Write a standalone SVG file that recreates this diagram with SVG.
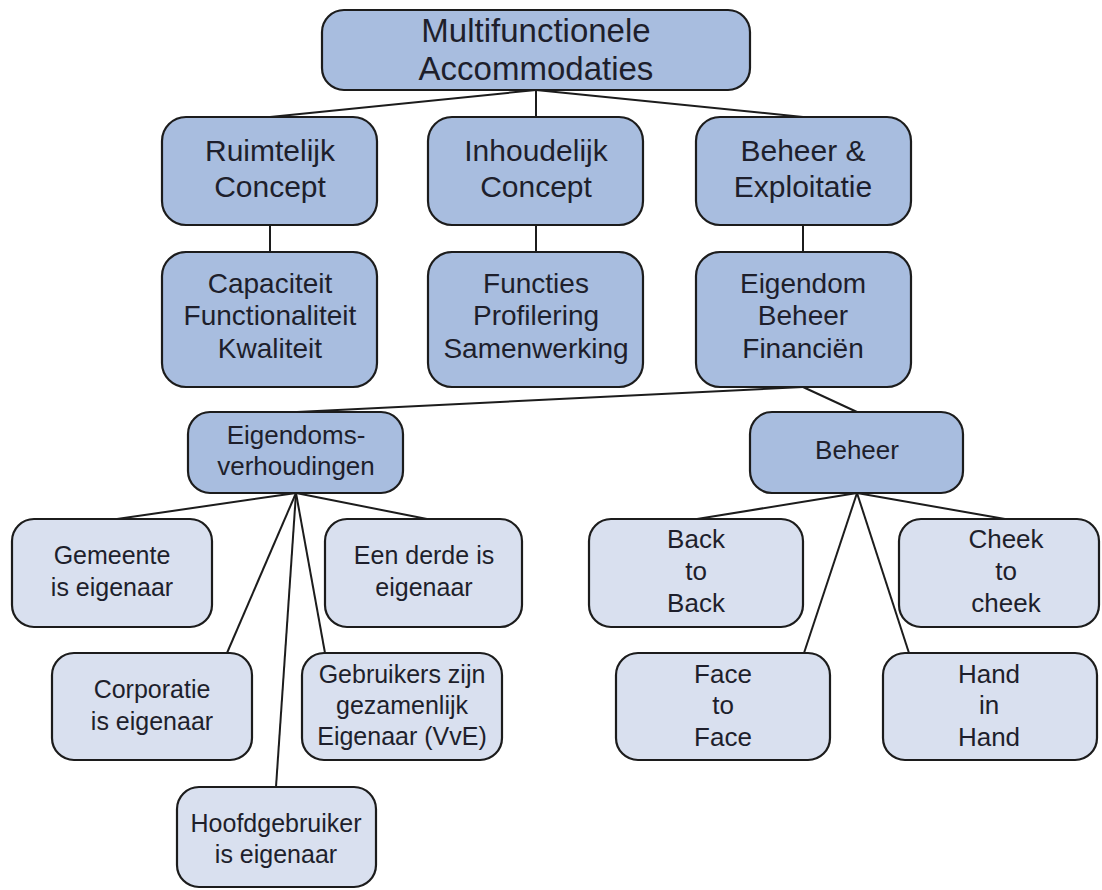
<svg xmlns="http://www.w3.org/2000/svg" width="1102" height="890" viewBox="0 0 1102 890">
<style>
.box{stroke:#1c1c1c;stroke-width:2.2}
.d{fill:#a8bddf}
.l{fill:#d9e0ef}
text{font-family:"Liberation Sans",Arial,sans-serif;fill:#1e1f2c;text-anchor:middle}
.t33{font-size:33px}
.t30{font-size:30px}
.t28{font-size:28px}
.t26{font-size:26px}
.t25{font-size:25px}
.c line{stroke:#1c1c1c;stroke-width:2}
</style>
<rect width="1102" height="890" fill="#ffffff"/>
<g class="c" id="connectors">
<line x1="536" y1="90" x2="270" y2="117"/>
<line x1="536" y1="90" x2="536" y2="117"/>
<line x1="536" y1="90" x2="803" y2="117"/>
<line x1="270" y1="225" x2="270" y2="252"/>
<line x1="536" y1="225" x2="536" y2="252"/>
<line x1="803" y1="225" x2="803" y2="252"/>
<line x1="803" y1="387" x2="297" y2="412"/>
<line x1="803" y1="387" x2="857" y2="412"/>
<line x1="296" y1="493" x2="117" y2="519"/>
<line x1="296" y1="493" x2="227" y2="653"/>
<line x1="296" y1="493" x2="276" y2="787"/>
<line x1="296" y1="493" x2="325" y2="653"/>
<line x1="296" y1="493" x2="427" y2="519"/>
<line x1="857" y1="493" x2="697" y2="519"/>
<line x1="857" y1="493" x2="804" y2="653"/>
<line x1="857" y1="493" x2="909" y2="653"/>
<line x1="857" y1="493" x2="1005" y2="519"/>
</g>
<g id="n-top"><rect class="box d" x="322" y="10" width="428" height="80" rx="22"/>
<text class="t33" x="536" y="42">Multifunctionele</text><text class="t33" x="536" y="80">Accommodaties</text></g>
<g id="n-ruimtelijk"><rect class="box d" x="162" y="117" width="215" height="108" rx="24"/>
<text class="t30" x="270" y="161">Ruimtelijk</text><text class="t30" x="270" y="197">Concept</text></g>
<g id="n-inhoudelijk"><rect class="box d" x="428" y="117" width="215" height="108" rx="24"/>
<text class="t30" x="536" y="161">Inhoudelijk</text><text class="t30" x="536" y="197">Concept</text></g>
<g id="n-beheer-expl"><rect class="box d" x="696" y="117" width="215" height="108" rx="24"/>
<text class="t30" x="803" y="161">Beheer &amp;</text><text class="t30" x="803" y="197">Exploitatie</text></g>
<g id="n-capaciteit"><rect class="box d" x="162" y="252" width="215" height="135" rx="24"/>
<text class="t28" x="270" y="293">Capaciteit</text><text class="t28" x="270" y="325">Functionaliteit</text><text class="t28" x="270" y="358">Kwaliteit</text></g>
<g id="n-functies"><rect class="box d" x="428" y="252" width="215" height="135" rx="24"/>
<text class="t28" x="536" y="293">Functies</text><text class="t28" x="536" y="325">Profilering</text><text class="t28" x="536" y="358">Samenwerking</text></g>
<g id="n-eigendom"><rect class="box d" x="696" y="252" width="215" height="135" rx="24"/>
<text class="t28" x="803" y="293">Eigendom</text><text class="t28" x="803" y="325">Beheer</text><text class="t28" x="803" y="358">Financiën</text></g>
<g id="n-eigendoms"><rect class="box d" x="188" y="412" width="215" height="81" rx="22"/>
<text class="t26" x="296" y="444">Eigendoms-</text><text class="t26" x="296" y="475">verhoudingen</text></g>
<g id="n-beheer"><rect class="box d" x="750" y="412" width="213" height="81" rx="22"/>
<text class="t26" x="857" y="459">Beheer</text></g>
<g id="n-gemeente"><rect class="box l" x="12" y="519" width="200" height="108" rx="22"/>
<text class="t25" x="112" y="564">Gemeente</text><text class="t25" x="112" y="596">is eigenaar</text></g>
<g id="n-derde"><rect class="box l" x="325" y="519" width="197" height="108" rx="22"/>
<text class="t25" x="424" y="564">Een derde is</text><text class="t25" x="424" y="596">eigenaar</text></g>
<g id="n-corporatie"><rect class="box l" x="52" y="653" width="200" height="107" rx="22"/>
<text class="t25" x="152" y="698">Corporatie</text><text class="t25" x="152" y="730">is eigenaar</text></g>
<g id="n-gebruikers"><rect class="box l" x="302" y="653" width="200" height="107" rx="22"/>
<text class="t25" x="402" y="683">Gebruikers zijn</text><text class="t25" x="402" y="714">gezamenlijk</text><text class="t25" x="402" y="745">Eigenaar (VvE)</text></g>
<g id="n-hoofd"><rect class="box l" x="177" y="787" width="199" height="100" rx="22"/>
<text class="t25" x="276" y="832">Hoofdgebruiker</text><text class="t25" x="276" y="863">is eigenaar</text></g>
<g id="n-back"><rect class="box l" x="589" y="519" width="214" height="108" rx="22"/>
<text class="t26" x="696" y="548">Back</text><text class="t26" x="696" y="580">to</text><text class="t26" x="696" y="612">Back</text></g>
<g id="n-cheek"><rect class="box l" x="899" y="519" width="200" height="108" rx="22"/>
<text class="t26" x="1006" y="548">Cheek</text><text class="t26" x="1006" y="580">to</text><text class="t26" x="1006" y="612">cheek</text></g>
<g id="n-face"><rect class="box l" x="616" y="653" width="214" height="107" rx="22"/>
<text class="t26" x="723" y="683">Face</text><text class="t26" x="723" y="714">to</text><text class="t26" x="723" y="746">Face</text></g>
<g id="n-hand"><rect class="box l" x="883" y="653" width="214" height="107" rx="22"/>
<text class="t26" x="989" y="683">Hand</text><text class="t26" x="989" y="714">in</text><text class="t26" x="989" y="746">Hand</text></g>
</svg>
